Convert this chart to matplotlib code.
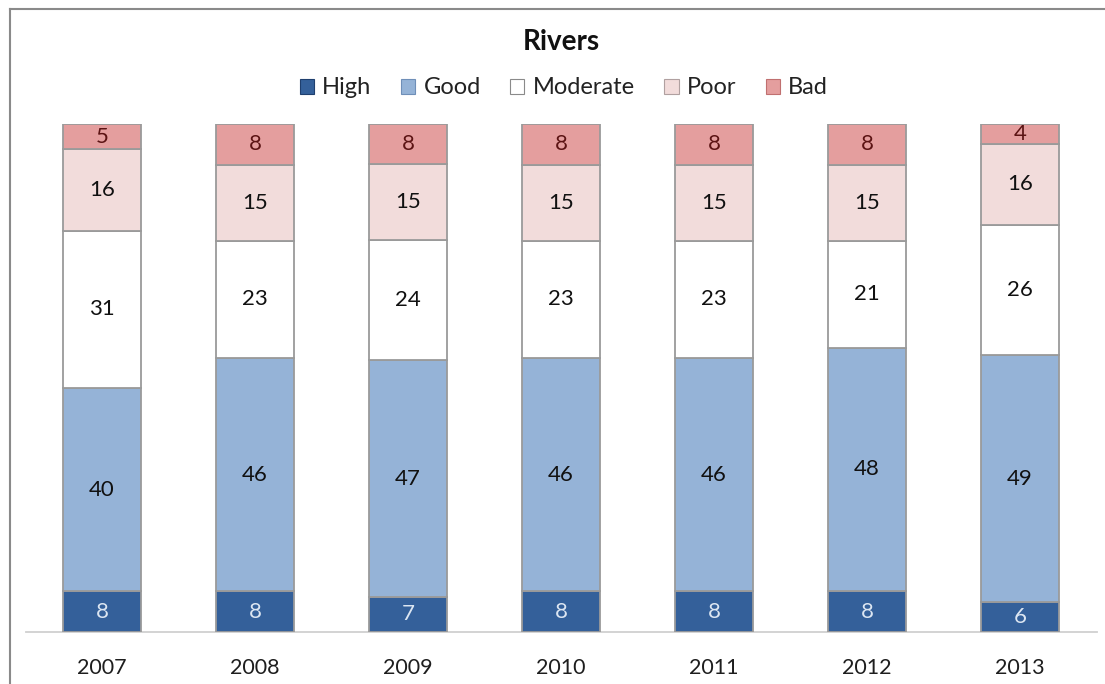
import numpy as np
import matplotlib
matplotlib.use("Agg")
import matplotlib.pyplot as plt
from matplotlib.patches import Patch
from matplotlib.lines import Line2D

plt.rcParams['font.family'] = ['Lato', 'DejaVu Sans']

years = ["2007", "2008", "2009", "2010", "2011", "2012", "2013"]
high = [8, 8, 7, 8, 8, 8, 6]
good = [40, 46, 47, 46, 46, 48, 49]
moderate = [31, 23, 24, 23, 23, 21, 26]
poor = [16, 15, 15, 15, 15, 15, 16]
bad = [5, 8, 8, 8, 8, 8, 4]

series_names = ["High", "Good", "Moderate", "Poor", "Bad"]
series_values = [high, good, moderate, poor, bad]
fill_colors = ["#34609a", "#95b3d7", "#ffffff", "#f2dcdb", "#e49e9e"]
label_colors = ["#dce6f2", "#111111", "#111111", "#111111", "#5c1414"]
edge_color = "#9a9a9a"

W, H = 1105, 684
fig = plt.figure(figsize=(W / 100, H / 100), dpi=100)

# plot area in pixel terms
left_px, right_px = 25.5, 1096.5
base_px, top_px = 632, 124
ax = fig.add_axes([left_px / W, 1 - base_px / H,
                   (right_px - left_px) / W, (base_px - top_px) / H])

data = np.array(series_values, dtype=float)
totals = data.sum(axis=0)
shares = data / totals * 100  # 100% stacked columns

x = np.arange(len(years))
bottom = np.zeros(len(years))
for name, vals, share, fc, lc in zip(series_names, series_values, shares,
                                      fill_colors, label_colors):
    ax.bar(x, share, bottom=bottom, width=0.516, color=fc,
           edgecolor=edge_color, linewidth=1.3, label=name, zorder=3)
    for xi, v, s, b in zip(x, vals, share, bottom):
        ax.text(xi, b + s / 2, str(v), ha="center", va="center",
                fontsize=16, color=lc, zorder=4)
    bottom += share

ax.set_xlim(-0.5, len(years) - 0.5)
ax.set_ylim(0, 100)
ax.set_xticks(x)
ax.set_xticklabels(years, fontsize=15.5, color="#1e1e1e")
ax.tick_params(axis="x", length=0, pad=19)
ax.set_yticks([])
for side in ["top", "left", "right"]:
    ax.spines[side].set_visible(False)
ax.spines["bottom"].set_color("#d0d0d0")
ax.spines["bottom"].set_linewidth(1.3)
ax.spines["bottom"].set_zorder(2)

fig.text(561 / W, 1 - 42 / H, "Rivers", ha="center", va="center",
         fontsize=20, fontweight="bold", color="#111111")

handles = [Patch(facecolor=fc, edgecolor=ec, linewidth=0.8)
           for fc, ec in zip(fill_colors,
                             ["#1f3f6e", "#6f8fb8", "#8a8a8a", "#b0a0a0", "#c07070"])]
fig.legend(handles, series_names, loc="center", ncol=5,
           bbox_to_anchor=(564 / W, 1 - 88 / H), frameon=False,
           fontsize=17, handlelength=0.6, handleheight=0.6,
           handletextpad=0.35, columnspacing=1.25, labelcolor="#222222")

# outer chart frame
fig.add_artist(Line2D([10 / W, 10 / W], [0, 1 - 9 / H], color="#8a8a8a",
                      linewidth=1.5, transform=fig.transFigure))
fig.add_artist(Line2D([10 / W, 1], [1 - 9 / H, 1 - 9 / H], color="#8a8a8a",
                      linewidth=1.5, transform=fig.transFigure))

fig.savefig("out.png", dpi=100, facecolor="white")
